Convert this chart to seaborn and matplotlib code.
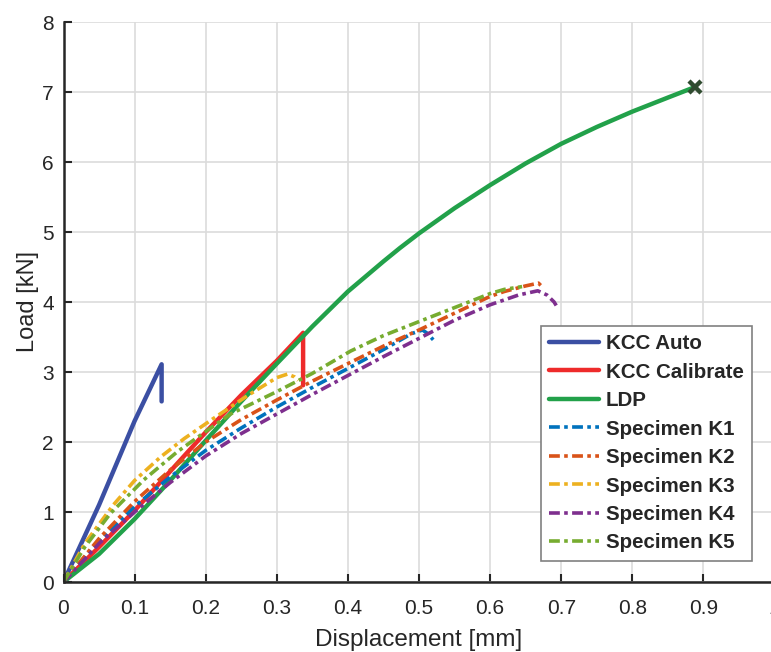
import matplotlib
matplotlib.use("Agg")
import matplotlib.pyplot as plt
import seaborn as sns
import numpy as np
import pandas as pd

# ---- data ----
kcc_auto_x = [0, 0.05, 0.10, 0.138, 0.138]
kcc_auto_y = [0, 1.10, 2.30, 3.11, 2.58]

kcc_cal_x = [0, 0.05, 0.10, 0.15, 0.20, 0.25, 0.30, 0.337, 0.337]
kcc_cal_y = [0, 0.50, 1.02, 1.58, 2.14, 2.67, 3.16, 3.56, 2.81]

ldp_x = [0, 0.05, 0.10, 0.15, 0.20, 0.25, 0.30, 0.35, 0.40, 0.45, 0.473, 0.50, 0.55, 0.60, 0.65, 0.70, 0.75, 0.80, 0.85, 0.888]
ldp_y = [0, 0.40, 0.90, 1.45, 2.02, 2.58, 3.12, 3.65, 4.15, 4.58, 4.77, 4.98, 5.34, 5.67, 5.98, 6.26, 6.50, 6.72, 6.92, 7.07]

k1_x = [0, 0.05, 0.10, 0.15, 0.20, 0.25, 0.30, 0.35, 0.40, 0.45, 0.49, 0.505, 0.512, 0.52]
k1_y = [0, 0.58, 1.08, 1.50, 1.88, 2.20, 2.50, 2.78, 3.05, 3.32, 3.55, 3.60, 3.55, 3.46]

k2_x = [0, 0.05, 0.10, 0.15, 0.20, 0.25, 0.30, 0.35, 0.40, 0.45, 0.50, 0.55, 0.60, 0.62, 0.65, 0.668, 0.675]
k2_y = [0, 0.62, 1.15, 1.60, 2.00, 2.32, 2.60, 2.87, 3.12, 3.37, 3.60, 3.84, 4.08, 4.15, 4.23, 4.27, 4.20]

k3_x = [0, 0.03, 0.07, 0.10, 0.137, 0.17, 0.21, 0.26, 0.30, 0.315, 0.325, 0.33]
k3_y = [0, 0.55, 1.10, 1.45, 1.79, 2.05, 2.33, 2.67, 2.92, 2.97, 2.93, 2.88]

k4_x = [0, 0.05, 0.10, 0.15, 0.20, 0.25, 0.30, 0.35, 0.40, 0.45, 0.50, 0.55, 0.60, 0.64, 0.667, 0.68, 0.69, 0.693]
k4_y = [0, 0.55, 1.00, 1.42, 1.80, 2.12, 2.40, 2.68, 2.95, 3.22, 3.48, 3.74, 3.96, 4.10, 4.16, 4.10, 4.00, 3.95]

k5_x = [0, 0.03, 0.066, 0.113, 0.16, 0.20, 0.235, 0.30, 0.35, 0.404, 0.45, 0.50, 0.55, 0.60, 0.62, 0.645]
k5_y = [0, 0.50, 0.98, 1.46, 1.86, 2.15, 2.40, 2.72, 2.98, 3.30, 3.52, 3.72, 3.92, 4.12, 4.18, 4.22]

ldp_max_x = [0.888]
ldp_max_y = [7.07]

dashdot = (0, (3, 1.2, 1, 1.2))
series = [
    ("KCC Auto", kcc_auto_x, kcc_auto_y, "#3B4FA3", "-", 3.2),
    ("KCC Calibrate", kcc_cal_x, kcc_cal_y, "#EE2B2B", "-", 3.2),
    ("LDP", ldp_x, ldp_y, "#22A14A", "-", 3.2),
    ("Specimen K1", k1_x, k1_y, "#0072BD", dashdot, 2.6),
    ("Specimen K2", k2_x, k2_y, "#D95319", dashdot, 2.6),
    ("Specimen K3", k3_x, k3_y, "#EDB120", dashdot, 2.6),
    ("Specimen K4", k4_x, k4_y, "#7E2F8E", dashdot, 2.6),
    ("Specimen K5", k5_x, k5_y, "#77AC30", dashdot, 2.6),
]

sns.set_theme(style="whitegrid")
plt.rcParams["font.family"] = ["Liberation Sans", "DejaVu Sans"]

fig = plt.figure(figsize=(7.71, 6.52), dpi=100)
ax = fig.add_axes([63.5 / 771, 70 / 652, 711 / 771, 560 / 652])

for name, xs, ys, col, ls, lw in series:
    df = pd.DataFrame({"x": xs, "y": ys})
    sns.lineplot(data=df, x="x", y="y", sort=False, estimator=None, ax=ax,
                 color=col, linestyle=ls, linewidth=lw, label=name)

ax.plot(ldp_max_x, ldp_max_y, marker="x", color="#2F4B2F", markersize=9,
        markeredgewidth=3.2, linestyle="none")

ax.set_xlim(0, 1)
ax.set_ylim(0, 8)
ax.set_xticks(np.arange(0, 1.01, 0.1))
ax.set_xticklabels(["0", "0.1", "0.2", "0.3", "0.4", "0.5", "0.6", "0.7", "0.8", "0.9", "1"])
ax.set_yticks(range(0, 9))
ax.set_xlabel("Displacement [mm]", fontsize=17.5, color="#262626", labelpad=8)
ax.set_ylabel("Load [kN]", fontsize=17, color="#262626", labelpad=2)
ax.tick_params(axis="both", direction="in", length=6, width=1.5, colors="#262626",
               labelsize=15, bottom=True, left=True)
ax.tick_params(axis="x", pad=12)
ax.tick_params(axis="y", pad=7)
ax.grid(True, color="#DCDCDC", linewidth=1.2)
ax.set_facecolor("white")
for s in ["top", "right"]:
    ax.spines[s].set_visible(False)
for s in ["left", "bottom"]:
    ax.spines[s].set_visible(True)
    ax.spines[s].set_color("#262626")
    ax.spines[s].set_linewidth(1.8)

leg = ax.legend(loc="upper left", bbox_to_anchor=((541 - 63.5) / 711, (582 - 326) / 560),
                frameon=True, fancybox=False, prop={"weight": "bold", "size": 14.8},
                handlelength=2.4, handletextpad=0.35, labelspacing=0.46,
                borderpad=0.4, borderaxespad=0)
leg.get_frame().set_edgecolor("#808080")
leg.get_frame().set_linewidth(1.2)
leg.get_frame().set_alpha(1)

fig.savefig("out.png", dpi=100)
